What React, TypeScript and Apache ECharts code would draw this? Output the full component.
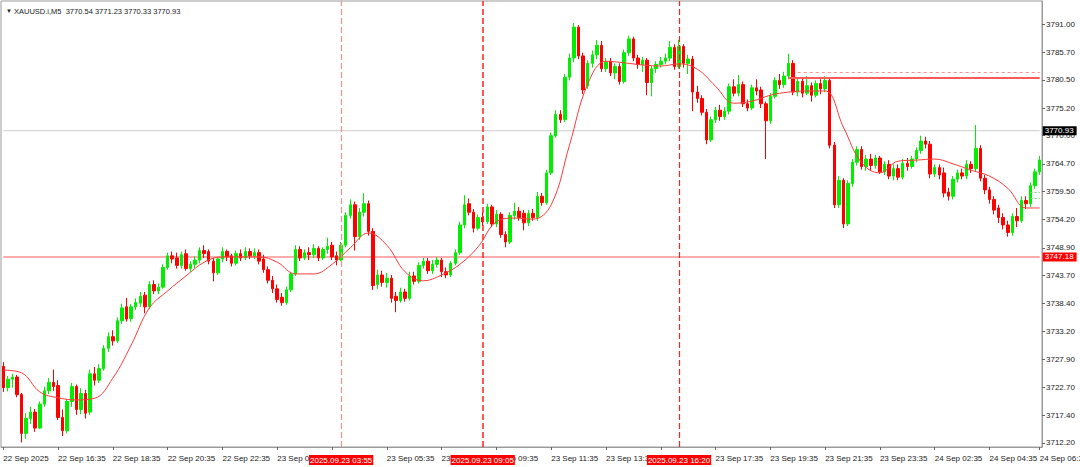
import React, { useEffect, useRef } from 'react';
import * as echarts from 'echarts';

// [open, close, low, high] per bar
const candles: number[][] = [
  [3726.6, 3722.6, 3721.8, 3727.4], [3722.6, 3724.2, 3721.9, 3724.8], [3724.2, 3724.6, 3722.6, 3725.2], [3724.6, 3721.3, 3720.8, 3725.0],
  [3721.3, 3714.0, 3712.3, 3721.6], [3714.0, 3716.8, 3713.0, 3717.8], [3716.8, 3718.0, 3715.8, 3719.0], [3718.0, 3715.0, 3714.3, 3718.6],
  [3715.0, 3719.5, 3714.8, 3720.0], [3719.5, 3722.0, 3719.0, 3722.8], [3722.0, 3723.6, 3721.4, 3724.4], [3723.6, 3722.8, 3722.0, 3726.0],
  [3723.0, 3717.0, 3716.5, 3724.0], [3717.0, 3714.5, 3713.5, 3718.5], [3714.5, 3720.0, 3714.0, 3720.5], [3720.0, 3722.8, 3719.0, 3723.5],
  [3722.8, 3718.5, 3717.5, 3723.2], [3718.5, 3721.5, 3717.6, 3722.5], [3721.5, 3717.8, 3716.8, 3722.2], [3718.0, 3725.2, 3717.5, 3726.0],
  [3725.2, 3724.0, 3723.0, 3726.5], [3724.0, 3726.2, 3723.5, 3727.0], [3726.2, 3730.0, 3725.8, 3730.6], [3730.0, 3732.2, 3729.3, 3733.0],
  [3732.2, 3731.4, 3730.5, 3733.4], [3731.4, 3735.2, 3731.0, 3735.8], [3735.2, 3737.6, 3734.6, 3738.4], [3737.8, 3735.5, 3735.0, 3739.5],
  [3735.6, 3737.8, 3735.0, 3738.3], [3737.8, 3738.6, 3737.2, 3739.4], [3738.5, 3739.8, 3737.8, 3740.6], [3740.0, 3737.8, 3736.6, 3740.6],
  [3737.8, 3742.0, 3737.4, 3742.6], [3742.0, 3740.8, 3740.2, 3742.8], [3740.8, 3741.5, 3740.2, 3742.2], [3741.5, 3745.2, 3741.2, 3745.8],
  [3745.2, 3747.4, 3744.8, 3748.0], [3747.4, 3746.8, 3746.0, 3748.2], [3747.0, 3745.6, 3745.0, 3748.0], [3745.6, 3747.6, 3745.0, 3748.2],
  [3747.8, 3745.0, 3744.6, 3748.6], [3745.0, 3745.8, 3744.4, 3746.4], [3745.8, 3746.6, 3745.0, 3747.3], [3746.6, 3748.4, 3746.0, 3749.0],
  [3748.4, 3747.8, 3747.0, 3749.4], [3748.2, 3746.4, 3745.8, 3748.6], [3746.4, 3744.2, 3742.6, 3747.0], [3744.2, 3746.8, 3743.8, 3747.2],
  [3746.8, 3748.2, 3746.2, 3749.0], [3748.2, 3747.2, 3746.4, 3748.6], [3747.4, 3746.0, 3745.4, 3747.8], [3746.0, 3747.8, 3745.6, 3748.4],
  [3747.8, 3747.0, 3746.4, 3748.6], [3747.0, 3748.2, 3746.6, 3749.0], [3748.2, 3747.4, 3746.8, 3748.8], [3747.4, 3748.0, 3746.8, 3748.8],
  [3748.0, 3746.4, 3745.8, 3748.6], [3746.8, 3744.8, 3744.2, 3747.6], [3744.8, 3742.8, 3742.2, 3745.4], [3742.8, 3741.2, 3740.4, 3743.6],
  [3741.2, 3739.2, 3738.6, 3742.0], [3739.6, 3738.6, 3738.0, 3740.4], [3738.6, 3741.0, 3738.2, 3741.6], [3741.0, 3744.0, 3740.6, 3744.4],
  [3744.0, 3748.6, 3743.6, 3749.4], [3748.6, 3747.0, 3746.4, 3749.2], [3747.0, 3748.0, 3746.6, 3748.6], [3748.0, 3747.6, 3746.6, 3749.0],
  [3747.6, 3748.8, 3747.0, 3749.6], [3748.8, 3747.0, 3746.4, 3749.2], [3747.0, 3748.6, 3746.6, 3749.0], [3748.6, 3749.2, 3747.8, 3750.8],
  [3749.4, 3747.2, 3746.6, 3750.0], [3747.4, 3746.6, 3745.6, 3748.2], [3746.6, 3749.4, 3746.4, 3750.0], [3749.4, 3755.0, 3749.0, 3755.6],
  [3755.0, 3757.0, 3754.4, 3758.0], [3757.0, 3751.0, 3748.4, 3757.6], [3751.0, 3755.6, 3750.4, 3756.4], [3755.6, 3757.2, 3754.8, 3759.2],
  [3757.2, 3752.0, 3751.2, 3757.8], [3752.0, 3741.8, 3741.0, 3752.6], [3742.0, 3743.8, 3741.2, 3744.8], [3743.8, 3742.4, 3741.6, 3744.6],
  [3742.4, 3743.2, 3741.4, 3744.2], [3743.2, 3739.4, 3738.6, 3743.8], [3739.8, 3739.0, 3736.8, 3740.6], [3739.0, 3740.6, 3738.6, 3741.4],
  [3740.6, 3739.4, 3738.8, 3741.2], [3739.4, 3743.6, 3739.0, 3744.4], [3743.6, 3742.6, 3742.0, 3744.4], [3742.6, 3745.6, 3742.2, 3746.2],
  [3745.6, 3746.4, 3745.0, 3747.0], [3746.4, 3744.6, 3744.0, 3747.0], [3744.6, 3745.8, 3744.0, 3746.6], [3745.8, 3746.6, 3745.2, 3747.2],
  [3746.6, 3744.4, 3743.4, 3747.0], [3744.4, 3743.8, 3743.2, 3745.2], [3743.8, 3746.0, 3743.4, 3746.4], [3746.0, 3748.0, 3745.6, 3748.6],
  [3748.0, 3753.2, 3747.6, 3753.8], [3753.2, 3757.0, 3752.6, 3758.8], [3757.2, 3755.6, 3755.0, 3758.2], [3755.6, 3752.6, 3751.8, 3756.2],
  [3752.6, 3754.6, 3752.2, 3755.2], [3754.6, 3753.8, 3753.0, 3755.6], [3753.8, 3756.6, 3753.4, 3757.2], [3756.6, 3753.4, 3752.8, 3757.0],
  [3753.4, 3755.2, 3752.8, 3756.0], [3755.2, 3751.4, 3750.8, 3755.6], [3751.4, 3750.0, 3749.0, 3752.0], [3750.0, 3755.0, 3749.6, 3755.6],
  [3755.0, 3755.8, 3754.2, 3757.4], [3755.8, 3754.6, 3754.0, 3756.6], [3755.4, 3753.6, 3752.2, 3756.0], [3753.6, 3755.4, 3753.0, 3756.0],
  [3755.4, 3754.6, 3754.0, 3756.2], [3754.6, 3758.6, 3754.0, 3759.4], [3758.6, 3757.4, 3756.8, 3759.2], [3757.4, 3763.0, 3757.0, 3763.6],
  [3763.0, 3770.0, 3762.6, 3770.6], [3770.0, 3774.0, 3769.6, 3774.8], [3774.0, 3773.0, 3772.4, 3774.8], [3773.0, 3781.0, 3772.6, 3781.6],
  [3781.0, 3784.6, 3780.4, 3785.4], [3784.6, 3790.4, 3783.8, 3791.2], [3790.4, 3785.0, 3784.4, 3790.8], [3785.0, 3778.6, 3777.8, 3785.6],
  [3779.4, 3783.6, 3778.8, 3784.2], [3783.6, 3785.2, 3782.8, 3786.0], [3785.2, 3787.0, 3784.4, 3788.0], [3787.0, 3782.6, 3782.0, 3787.8],
  [3782.6, 3783.8, 3782.0, 3784.6], [3784.0, 3781.8, 3781.2, 3784.6], [3781.8, 3783.0, 3780.6, 3783.6], [3783.0, 3780.2, 3779.6, 3783.6],
  [3780.2, 3785.6, 3779.8, 3786.2], [3785.6, 3788.2, 3785.0, 3788.8], [3788.2, 3784.6, 3784.0, 3788.6], [3784.6, 3783.4, 3782.6, 3785.2],
  [3783.4, 3784.2, 3782.0, 3784.8], [3784.2, 3780.0, 3777.6, 3784.6], [3780.0, 3782.6, 3777.4, 3783.2], [3782.6, 3783.4, 3781.8, 3784.0],
  [3783.4, 3784.0, 3782.8, 3784.8], [3784.0, 3784.6, 3783.4, 3785.4], [3784.6, 3786.6, 3784.0, 3787.8], [3786.6, 3783.0, 3782.4, 3787.2],
  [3783.0, 3786.8, 3782.6, 3788.0], [3786.8, 3783.6, 3782.8, 3787.2], [3783.6, 3784.4, 3781.6, 3785.2], [3784.4, 3778.2, 3774.6, 3785.0],
  [3778.2, 3777.0, 3776.2, 3779.4], [3777.0, 3774.4, 3773.8, 3777.6], [3774.4, 3769.2, 3768.4, 3775.0], [3769.2, 3773.0, 3768.8, 3773.6],
  [3773.0, 3774.8, 3772.4, 3775.4], [3774.8, 3773.6, 3772.8, 3775.8], [3773.6, 3774.6, 3773.0, 3775.4], [3774.6, 3779.2, 3774.0, 3779.8],
  [3779.2, 3778.0, 3777.4, 3780.6], [3778.0, 3779.6, 3777.4, 3781.4], [3779.6, 3776.0, 3775.4, 3780.2], [3776.0, 3775.2, 3774.6, 3776.8],
  [3775.2, 3779.0, 3774.8, 3779.6], [3779.0, 3778.4, 3777.6, 3780.6], [3778.6, 3776.0, 3775.2, 3779.2], [3776.0, 3772.8, 3765.6, 3776.4],
  [3772.8, 3777.4, 3772.2, 3778.0], [3777.4, 3780.4, 3777.0, 3781.0], [3780.4, 3779.6, 3778.8, 3781.6], [3779.6, 3781.2, 3779.0, 3782.0],
  [3781.2, 3783.6, 3780.6, 3785.4], [3783.6, 3778.2, 3777.6, 3784.2], [3778.2, 3780.2, 3777.4, 3780.8], [3780.2, 3778.0, 3777.2, 3780.8],
  [3778.0, 3779.4, 3777.6, 3781.2], [3779.4, 3777.6, 3776.4, 3780.0], [3777.6, 3779.8, 3777.2, 3780.4], [3779.8, 3778.8, 3777.8, 3780.6],
  [3778.8, 3780.4, 3778.2, 3781.2], [3780.4, 3768.2, 3767.6, 3781.0], [3768.2, 3757.0, 3756.4, 3768.8], [3757.0, 3761.6, 3756.4, 3762.4],
  [3761.6, 3753.4, 3752.6, 3762.0], [3753.4, 3761.0, 3753.0, 3761.6], [3761.0, 3765.0, 3760.4, 3765.6], [3765.0, 3767.4, 3764.4, 3768.0],
  [3767.4, 3764.2, 3763.6, 3768.0], [3764.2, 3765.6, 3763.4, 3766.4], [3765.6, 3764.4, 3763.4, 3766.6], [3764.4, 3765.8, 3763.8, 3766.4],
  [3765.8, 3763.2, 3762.8, 3766.2], [3763.2, 3764.6, 3762.6, 3765.2], [3764.6, 3762.4, 3761.8, 3765.4], [3762.4, 3763.8, 3761.6, 3764.6],
  [3763.8, 3762.2, 3761.6, 3764.6], [3762.2, 3764.8, 3761.8, 3765.6], [3764.8, 3764.2, 3763.4, 3765.8], [3764.2, 3765.6, 3763.8, 3766.2],
  [3765.6, 3767.2, 3765.0, 3767.8], [3767.2, 3769.0, 3766.6, 3770.0], [3769.0, 3768.4, 3767.6, 3769.8], [3768.4, 3762.8, 3762.0, 3769.0],
  [3762.8, 3764.0, 3762.2, 3764.6], [3764.0, 3762.6, 3761.8, 3764.6], [3763.0, 3759.2, 3758.4, 3764.0], [3759.4, 3758.6, 3757.8, 3760.2],
  [3758.6, 3761.8, 3758.0, 3762.4], [3761.8, 3763.0, 3761.2, 3763.6], [3763.0, 3762.4, 3761.8, 3763.8], [3762.4, 3764.6, 3761.8, 3765.4],
  [3764.6, 3763.8, 3763.0, 3765.2], [3763.8, 3767.6, 3763.2, 3772.0], [3767.6, 3762.0, 3761.4, 3768.2], [3762.0, 3759.8, 3759.0, 3762.6],
  [3759.8, 3758.0, 3757.2, 3760.4], [3758.0, 3756.0, 3755.2, 3758.6], [3756.4, 3754.6, 3753.6, 3757.0], [3754.6, 3753.2, 3752.4, 3755.4],
  [3753.2, 3751.8, 3751.0, 3754.0], [3751.8, 3754.8, 3751.2, 3755.4], [3754.8, 3754.0, 3752.8, 3756.4], [3754.0, 3757.8, 3753.6, 3758.6],
  [3757.8, 3757.2, 3756.2, 3758.6], [3757.2, 3760.6, 3756.6, 3761.2], [3760.6, 3763.2, 3760.0, 3763.8], [3763.2, 3765.4, 3762.6, 3766.2],
];

// moving average: [bar index, value]
const maPoints: number[][] = [
  [0, 3725.9], [4, 3725.4], [8, 3721.8], [12, 3720.7], [16, 3720.3], [20, 3720.6], [24, 3724.4], [28, 3730.6],
  [32, 3737.6], [36, 3740.8], [40, 3743.6], [44, 3746.2], [48, 3747.2], [52, 3747.2], [56, 3747.2], [60, 3746.2],
  [64, 3744.0], [68, 3744.0], [72, 3745.8], [76, 3748.9], [80, 3751.7], [84, 3749.4], [88, 3744.4], [92, 3742.7],
  [96, 3743.8], [100, 3745.8], [104, 3749.1], [108, 3753.8], [112, 3754.5], [116, 3754.3], [120, 3757.0], [124, 3768.2],
  [128, 3779.7], [132, 3784.0], [136, 3783.7], [140, 3783.3], [144, 3783.1], [148, 3783.5], [152, 3782.5], [156, 3779.3],
  [160, 3776.1], [164, 3776.5], [168, 3777.6], [172, 3778.2], [176, 3778.4], [180, 3778.4], [184, 3771.6], [188, 3764.9],
  [192, 3763.0], [196, 3765.2], [200, 3765.4], [204, 3765.6], [208, 3764.7], [212, 3763.5], [216, 3762.4], [220, 3760.1],
  [224, 3756.4], [227, 3756.4],
];

// time labels as they are visible (the ones under the red time boxes are cut as in the picture)
const xLabelIndex: number[] = [0, 12, 24, 36, 48, 60, 72, 84, 96, 108, 120, 132, 144, 156, 168, 180, 192, 204, 216, 227];
const xLabelText: string[] = [
  '22 Sep 2025', '22 Sep 16:35', '22 Sep 18:35', '22 Sep 20:35', '22 Sep 22:35', '23 Sep 01', '',
  '23 Sep 05:35', '23', '{c|p 09:35}', '23 Sep 11:35', '23 Sep 13:35', '', '23 Sep 17:35',
  '23 Sep 19:35', '23 Sep 21:35', '23 Sep 23:35', '24 Sep 02:35', '24 Sep 04:35', '24 Sep 06:35',
];
const yTicks: number[] = [
  3712.2, 3717.4, 3722.7, 3727.9, 3733.2, 3738.4, 3743.7, 3748.9, 3754.2, 3759.5, 3764.7, 3770.0, 3775.2, 3780.5, 3785.7, 3791.0,
];

const vLineIndex: number[] = [74, 105, 148];
const vLineText: string[] = ['2025.09.23 03:55', '2025.09.23 09:05', '2025.09.23 16:20'];
const bidPrice = 3770.93;
const levelPrice = 3747.18;
const resistPrice = 3780.84;
const resistDotPrice = 3781.95;
const resistStart = 172;
const greenLevels: number[] = [3759.27, 3758.22];
const titleText = 'XAUUSD.i,M5  3770.54 3771.23 3770.33 3770.93';

const Y_MIN = 3711.44;
const Y_MAX = 3795.33;
const FONT = '"Liberation Sans", Arial, sans-serif';

export default function App() {
  const ref = useRef<HTMLDivElement>(null);
  useEffect(() => {
    if (!ref.current) return;
    const chart = echarts.init(ref.current, null, { renderer: 'svg' });
    const categories = candles.map((_, i) => String(i));
    const first = '0';
    const last = String(candles.length - 1);
    const labelSet = new Set(xLabelIndex);
    const labelMap: Record<number, string> = {};
    xLabelIndex.forEach((ix, k) => (labelMap[ix] = xLabelText[k]));

    const vLines = vLineIndex.map((ix, k) => ({
      xAxis: String(ix),
      lineStyle: { color: k === 0 ? '#ff8c8c' : '#ff2020', width: k === 1 ? 1.5 : 1.2, type: [6, 3] },
      label: {
        show: true,
        position: 'start',
        formatter: vLineText[k],
        backgroundColor: '#ff0000',
        color: '#ffffff',
        fontSize: 8,
        fontFamily: FONT,
        padding: [1, 1, 0, 1],
        lineHeight: 9,
        distance: 8,
      },
    }));

    const priceLabel = (text: string, bg: string) => ({
      show: true, formatter: text, backgroundColor: bg,
      color: '#fff', fontSize: 8, fontFamily: FONT, padding: [1, 3, 0, 2], distance: 3,
    });

    const flatLine = (p: number) => categories.map((c) => (c === first || c === last ? p : null));

    const option: any = {
      animation: false,
      backgroundColor: '#ffffff',
      title: {
        text: '{a|▼} ' + titleText,
        left: 1,
        top: 2,
        textStyle: {
          fontSize: 7.5,
          fontWeight: 'normal',
          color: '#222',
          fontFamily: FONT,
          rich: { a: { fontSize: 6, color: '#222' } },
        },
      },
      grid: {
        left: 1, right: 38, top: 1, bottom: 20, show: true, borderColor: '#9a9a9a', borderWidth: 1,
        containLabel: false, outerBoundsMode: 'none',
      },
      xAxis: {
        type: 'category',
        data: categories,
        boundaryGap: true,
        axisLine: { show: true, lineStyle: { color: '#9a9a9a' } },
        axisTick: {
          show: true,
          alignWithLabel: true,
          interval: (i: number) => labelSet.has(i),
          length: 3,
          lineStyle: { color: '#666' },
        },
        axisLabel: {
          interval: (i: number) => labelSet.has(i),
          formatter: (_v: string, i: number) => labelMap[i] || '',
          align: 'left',
          fontSize: 8,
          color: '#222',
          margin: 7,
          fontFamily: FONT,
          hideOverlap: false,
          rich: { c: { fontSize: 8, color: '#222', fontFamily: FONT, padding: [0, 0, 0, 15] } },
        },
        splitLine: { show: false },
      },
      yAxis: {
        type: 'value',
        position: 'right',
        min: Y_MIN,
        max: Y_MAX,
        axisLine: { show: true, lineStyle: { color: '#9a9a9a' } },
        axisTick: { show: true, customValues: yTicks, length: 3, lineStyle: { color: '#666' } },
        axisLabel: {
          customValues: yTicks,
          formatter: (v: number) => v.toFixed(2),
          fontSize: 8,
          color: '#222',
          margin: 4,
          fontFamily: FONT,
        },
        splitLine: { show: false },
      },
      series: [
        {
          type: 'line',
          name: 'bid',
          data: flatLine(bidPrice),
          connectNulls: true,
          showSymbol: false,
          silent: true,
          clip: false,
          z: 1,
          color: '#cccccc',
          lineStyle: { color: '#cccccc', width: 1 },
          endLabel: priceLabel(bidPrice.toFixed(2), '#000000'),
        },
        {
          type: 'line',
          name: 'level',
          data: flatLine(levelPrice),
          connectNulls: true,
          showSymbol: false,
          silent: true,
          clip: false,
          z: 1,
          color: '#ff5c5c',
          lineStyle: { color: '#ff5c5c', width: 1 },
          endLabel: priceLabel(levelPrice.toFixed(2), '#ff0000'),
        },
        {
          type: 'candlestick',
          data: candles,
          barWidth: 3,
          z: 2,
          itemStyle: {
            color: '#00ee00',
            color0: '#ff0000',
            borderColor: '#00ee00',
            borderColor0: '#ff0000',
            borderWidth: 1,
          },
          emphasis: { disabled: true },
          silent: true,
        },
        {
          type: 'line',
          data: maPoints,
          smooth: 0.4,
          showSymbol: false,
          clip: false,
          lineStyle: { color: '#ff3a3a', width: 1 },
          silent: true,
          z: 3,
          markLine: {
            silent: true,
            symbol: ['none', 'none'],
            animation: false,
            data: [
              ...vLines,
              [
                { coord: [String(resistStart), resistPrice], lineStyle: { color: '#ff5a5a', width: 2, type: 'solid' }, label: { show: false } },
                { coord: [last, resistPrice] },
              ],
              [
                { coord: [String(resistStart + 2), resistDotPrice], lineStyle: { color: '#ff9090', width: 1, type: [3, 3] }, label: { show: false } },
                { coord: [last, resistDotPrice] },
              ],
              ...greenLevels.map((p) => [
                { coord: [String(candles.length - 3), p], lineStyle: { color: '#66dd66', width: 1, type: [2, 2] }, label: { show: false } },
                { coord: [last, p] },
              ]),
            ],
          },
        },
      ],
    };
    chart.setOption(option);
    return () => chart.dispose();
  }, []);

  return <div ref={ref} style={{ position: 'absolute', left: 0, top: 0, width: 1080, height: 467 }} />;
}
